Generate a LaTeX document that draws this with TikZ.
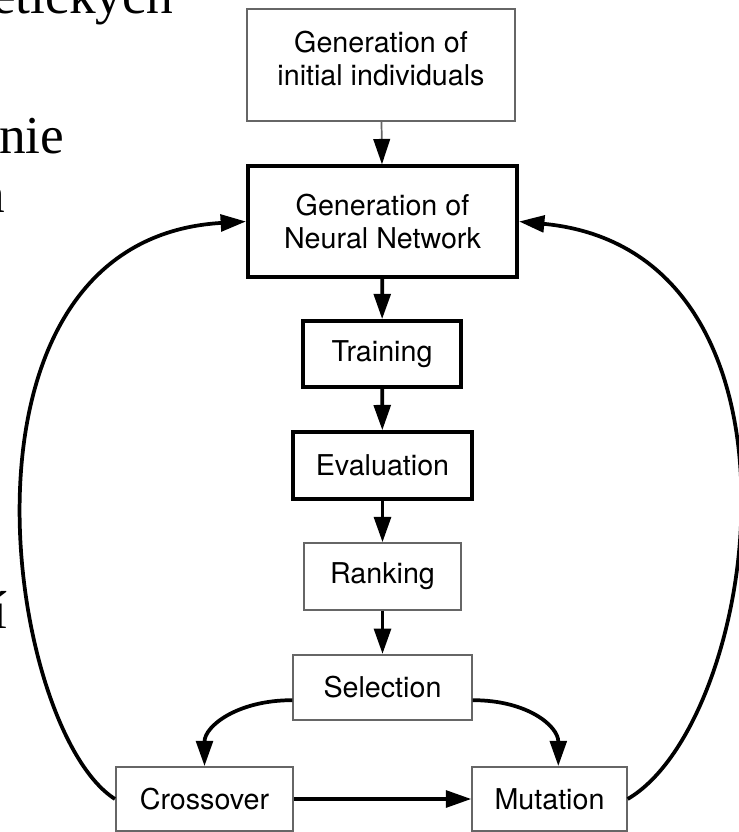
\documentclass[tikz,border=0pt]{standalone}
\usepackage{fontspec}
\setmainfont{TeX Gyre Heros}
\newfontfamily\scanfont{Liberation Serif}
\usetikzlibrary{arrows.meta}
\tikzset{
	box/.style={draw,rectangle,align=center,inner sep=0pt,font=\fontsize{21.5}{25}\selectfont},
	thinbox/.style={box,draw=black!60,line width=1.3pt},
	thickbox/.style={box,line width=2.8pt},
	link/.style={line width=2.8pt,-{Triangle[length=19pt,width=12.5pt]}},
	thinlink/.style={draw=black!60,line width=1.3pt,-{Triangle[length=19pt,width=12.5pt,color=black]}},
	scan/.style={inner sep=0pt,font=\scanfont\fontsize{40}{40}\selectfont}
}

\begin{document}
\begin{tikzpicture}[x=0.75pt,y=-0.75pt]
	\clip (0,0) rectangle (739,832);
	\node(w1)[scan,anchor=base east] at (173,13){etických};
	\node(w2)[scan,anchor=base west] at (-1,153){nie};
	\node(w3)[scan,anchor=base east] at (5,212){n};
	\node(w4)[scan,anchor=base east] at (8,628){í};

	\node(gen0)[thinbox,minimum width=201pt,minimum height=84pt,text depth=10pt] at (381,65){Generation of\\initial individuals};
	\node(gennet)[thickbox,minimum width=202pt,minimum height=83pt] at (382.5,221.5){Generation of\\Neural Network};
	\node(train)[thickbox,minimum width=118.5pt,minimum height=49.5pt] at (382,354){Training};
	\node(eval)[thickbox,minimum width=134pt,minimum height=50pt] at (382.5,465.5){Evaluation};
	\node(rank)[thinbox,minimum width=118pt,minimum height=50pt] at (382.5,576.5){Ranking};
	\node(select)[thinbox,minimum width=134pt,minimum height=49pt] at (382.5,687.5){Selection};
	\node(cross)[thinbox,minimum width=133pt,minimum height=48pt] at (204.5,799){Crossover};
	\node(mutate)[thinbox,minimum width=116pt,minimum height=48pt] at (549.5,799){Mutation};

	\draw[thinlink] (gen0) -- (gennet);
	\draw[link] (gennet) -- (train);
	\draw[link] (train) -- (eval);
	\draw[link] (eval) -- (rank);
	\draw[link] (rank) -- (select);
	\draw[link] (select.188) .. controls +(-55,0) and +(0,-40) .. (cross.north);
	\draw[link] (select.352) .. controls +(55,0) and +(0,-40) .. (mutate.75);
	\draw[link] (cross) -- (mutate);
	\draw[link] (cross.west) .. controls +(-110,-70) and +(-310,18) .. (gennet.west);
	\draw[link] (mutate.east) .. controls +(133,-78) and +(307,29) .. (gennet.east);
\end{tikzpicture}
\end{document}
